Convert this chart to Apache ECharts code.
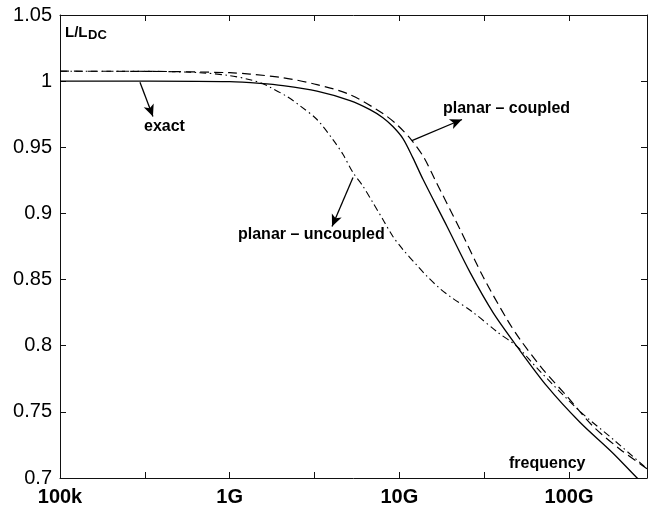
<!DOCTYPE html>
<html>
<head>
<meta charset="utf-8">
<script src="https://cdn.jsdelivr.net/npm/echarts@6/dist/echarts.min.js"></script>
<style>html,body{margin:0;padding:0;background:#fff}#c{width:654px;height:508px}</style>
</head>
<body>
<div id="c"></div>
<script>
// Frequencies in GHz (axis drawn in decades), values L/LDC
const xTickGHz = [0.1, 1, 10, 100];
const xTickLabels = ['100k', '1G', '10G', '100G'];
const xMinGHz = 0.1;
const xMaxGHz = 288;
const yMin = 0.7, yMax = 1.05, yStep = 0.05;

const exactF = [0.1, 0.339, 1.0, 1.51, 2.06, 3.27, 5.12, 6.71, 8.0, 9.16, 10.5, 12.0, 13.8, 19.1, 26.1, 35.6, 49.3, 74.1, 115.9, 181.6, 251, 262];
const exactV = [1.0, 1.0, 0.9996, 0.9983, 0.9966, 0.9924, 0.9853, 0.9785, 0.9724, 0.9657, 0.9566, 0.9422, 0.9256, 0.8901, 0.8554, 0.8252, 0.7995, 0.7694, 0.7421, 0.7187, 0.7002, 0.6985];

const coupledF = [0.1, 0.339, 1.0, 1.318, 2.06, 3.27, 5.12, 8.0, 9.82, 11.86, 13.96, 16.2, 22.8, 31.1, 43.1, 51.4, 70.1, 97.3, 138.4, 199.5, 288];
const coupledV = [1.0075, 1.0074, 1.0064, 1.0053, 1.0026, 0.9974, 0.9898, 0.9755, 0.9664, 0.9551, 0.9422, 0.9256, 0.8878, 0.8523, 0.8199, 0.8048, 0.7822, 0.7617, 0.7391, 0.7218, 0.7070];

const uncoupledF = [0.1, 0.339, 0.668, 1.0, 1.318, 1.57, 1.726, 2.18, 2.59, 3.27, 4.06, 4.66, 5.33, 6.11, 6.98, 8.0, 9.16, 10.5, 12.7, 14.6, 17.3, 19.9, 27.2, 38.1, 49.3, 67.5, 115.9, 181.6, 288];
const uncoupledV = [1.0075, 1.0074, 1.0064, 1.0042, 1.0011, 0.9981, 0.9955, 0.9883, 0.9815, 0.9710, 0.9558, 0.9445, 0.9309, 0.9205, 0.9082, 0.8954, 0.8826, 0.8727, 0.8607, 0.8523, 0.8433, 0.8372, 0.8252, 0.8100, 0.7995, 0.7806, 0.7504, 0.7293, 0.7070];

// arrows: [startGHz, startV, endGHz, endV]
const arrowExact = [0.296, 0.9991, 0.353, 0.9732];
const arrowCoupled = [11.86, 0.9551, 23.4, 0.9710];
const arrowUncoupled = [5.33, 0.9271, 4.01, 0.8901];

const toPts = (f, v) => f.map((x, i) => [Math.log10(x), v[i]]);
const arrow = a => [
  { coord: [Math.log10(a[0]), a[1]], symbol: 'none' },
  { coord: [Math.log10(a[2]), a[3]], symbol: 'arrow' }
];

const FONT = "'Liberation Sans', Arial, Helvetica, sans-serif";
const AX = '#111';

const chart = echarts.init(document.getElementById('c'), null, { renderer: 'canvas' });
const baseX = {
  type: 'value', min: -1, max: Math.log10(xMaxGHz), interval: 0.5,
  axisLine: { show: true, onZero: false, lineStyle: { color: AX, width: 1 } },
  axisTick: { show: true, inside: true, length: 6, lineStyle: { color: AX } },
  splitLine: { show: false }
};
const baseY = {
  type: 'value', min: yMin, max: yMax, interval: yStep,
  axisLine: { show: true, onZero: false, lineStyle: { color: AX, width: 1 } },
  axisTick: { show: true, inside: true, length: 6, lineStyle: { color: AX } },
  splitLine: { show: false }
};
const xLabel = v => {
  const r = Math.round(v);
  if (Math.abs(v - r) > 1e-6) return '';
  const i = xTickGHz.findIndex(g => Math.abs(Math.log10(g) - r) < 1e-6);
  return i >= 0 ? xTickLabels[i] : '';
};

chart.setOption({
  animation: false,
  backgroundColor: '#fff',
  grid: { left: 60, right: 7, top: 15, bottom: 30 },
  xAxis: [
    Object.assign({}, baseX, { position: 'bottom',
      axisLabel: { show: true, formatter: xLabel, fontSize: 20, fontWeight: 'bold', color: '#000', fontFamily: FONT, margin: 9, showMinLabel: true, showMaxLabel: true } }),
    Object.assign({}, baseX, { position: 'top', axisLabel: { show: false } })
  ],
  yAxis: [
    Object.assign({}, baseY, { position: 'left',
      axisLabel: { show: true, formatter: v => String(Math.round(v * 100) / 100), fontSize: 20, color: '#000', fontFamily: FONT, margin: 8 } }),
    Object.assign({}, baseY, { position: 'right', axisLabel: { show: false } })
  ],
  series: [
    {
      name: 'exact', type: 'line', xAxisIndex: 0, yAxisIndex: 0,
      data: toPts(exactF, exactV), showSymbol: false, smooth: 0.3, clip: true,
      lineStyle: { color: '#000', width: 1.3, type: 'solid' },
      markLine: {
        silent: true, animation: false, symbolSize: [8, 12],
        label: { show: false },
        lineStyle: { color: '#000', width: 1.3, type: 'solid' },
        data: [arrow(arrowExact), arrow(arrowCoupled), arrow(arrowUncoupled)]
      }
    },
    {
      name: 'planar - coupled', type: 'line', xAxisIndex: 0, yAxisIndex: 0,
      data: toPts(coupledF, coupledV), showSymbol: false, smooth: 0.3, clip: true,
      lineStyle: { color: '#000', width: 1.2, type: [9, 5] }
    },
    {
      name: 'planar - uncoupled', type: 'line', xAxisIndex: 0, yAxisIndex: 0,
      data: toPts(uncoupledF, uncoupledV), showSymbol: false, smooth: 0.3, clip: true,
      lineStyle: { color: '#000', width: 1.1, type: [7, 3.5, 1.5, 3.5] }
    }
  ],
  graphic: [
    { type: 'text', left: 65, top: 25, style: { text: 'L/L', font: "bold 15px " + FONT, fill: '#000' } },
    { type: 'text', left: 88, top: 29, style: { text: 'DC', font: "bold 13px " + FONT, fill: '#000' } },
    { type: 'text', left: 144, top: 119, style: { text: 'exact', font: "bold 16px " + FONT, fill: '#000' } },
    { type: 'text', left: 443, top: 101, style: { text: 'planar \u2013 coupled', font: "bold 16px " + FONT, fill: '#000' } },
    { type: 'text', left: 238, top: 227, style: { text: 'planar \u2013 uncoupled', font: "bold 16px " + FONT, fill: '#000' } },
    { type: 'text', left: 509, top: 456, style: { text: 'frequency', font: "bold 16px " + FONT, fill: '#000' } }
  ]
});
</script>
</body>
</html>
